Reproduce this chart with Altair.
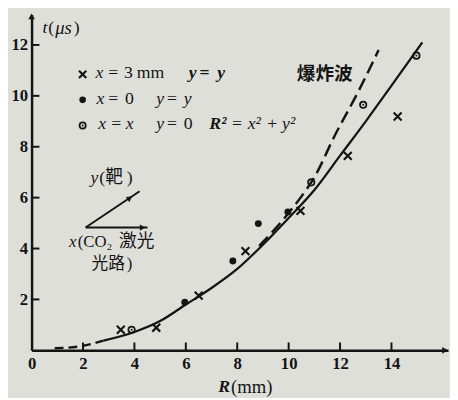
import altair as alt
import pandas as pd

# ---------------- data ----------------
cross_R = [3.47, 4.85, 6.5, 8.32, 10.46, 12.3, 14.24]
cross_t = [0.81, 0.89, 2.15, 3.9, 5.48, 7.64, 9.19]
dot_R = [5.96, 7.83, 8.82, 9.97]
dot_t = [1.89, 3.51, 4.98, 5.44]
ring_R = [3.89, 10.88, 12.9, 14.97]
ring_t = [0.81, 6.6, 9.65, 11.58]

fit_R = [2.8, 4, 5, 6, 7, 8, 9, 10, 11, 12, 13, 14, 15.2]
fit_t = [0.38, 0.72, 1.15, 1.8, 2.45, 3.2, 4.15, 5.2, 6.3, 7.65, 9.0, 10.4, 12.1]
low_R = [0.9, 1.9, 2.8]
low_t = [0.08, 0.16, 0.38]
blast_R = [8.85, 9.5, 10, 10.5, 11, 11.8, 12.7, 13.5]
blast_t = [4.1, 4.8, 5.4, 6.05, 6.8, 8.45, 10.15, 11.8]

x_ticks = [0, 2, 4, 6, 8, 10, 12, 14]
y_ticks = [2, 4, 6, 8, 10, 12]

# ---------------- style ----------------
INK = "#141414"
PAPER = "#dfdfda"
SERIF = "Liberation Serif"
CJK = "Noto Sans CJK SC"
W, H = 424, 342
OX, OY = 32, 11          # plot origin in page pixels
CROSS = "M-1,-1L1,1M-1,1L1,-1"

xs = alt.Scale(domain=[0, 16.2], nice=False, zero=False)
ys = alt.Scale(domain=[0, 13.2], nice=False, zero=False)
x_axis = alt.Axis(values=x_ticks, ticks=False, grid=False, title=None,
                  labelFont=SERIF, labelFontSize=17, labelFontWeight="bold",
                  labelColor=INK, domainColor=INK, domainWidth=2.5,
                  labelPadding=5, labelFlush=False)
y_axis = alt.Axis(values=y_ticks, ticks=False, grid=False, title=None,
                  labelFont=SERIF, labelFontSize=17, labelFontWeight="bold",
                  labelColor=INK, domainColor=INK, domainWidth=2.5,
                  labelPadding=4, labelFlush=False)


def X(field="R"):
    return alt.X(f"{field}:Q", scale=xs, axis=x_axis)


def Y(field="t"):
    return alt.Y(f"{field}:Q", scale=ys, axis=y_axis)


def df(R, t):
    return pd.DataFrame({"R": R, "t": t})


ONE = pd.DataFrame({"a": [1]})


def T(s, ix, iy, size=17, style="normal", weight="normal", font=SERIF):
    return alt.Chart(ONE).mark_text(
        text=s, align="left", baseline="middle", font=font, fontSize=size,
        fontStyle=style, fontWeight=weight, color=INK
    ).encode(x=alt.value(ix - OX), y=alt.value(iy - OY))


def sym(shape, ix, iy, size, filled, sw=2.0):
    return alt.Chart(ONE).mark_point(
        shape=shape, size=size, filled=filled, color=INK, strokeWidth=sw, opacity=1
    ).encode(x=alt.value(ix - OX), y=alt.value(iy - OY))


layers = []

# curves
layers.append(alt.Chart(df(fit_R, fit_t)).mark_line(
    color=INK, strokeWidth=2.3, interpolate="monotone").encode(x=X(), y=Y()))
layers.append(alt.Chart(df(low_R, low_t)).mark_line(
    color=INK, strokeWidth=2.4, strokeDash=[9, 5], interpolate="monotone").encode(x=X(), y=Y()))
layers.append(alt.Chart(df(blast_R, blast_t)).mark_line(
    color=INK, strokeWidth=2.5, strokeDash=[13, 6], interpolate="monotone").encode(x=X(), y=Y()))

# points
layers.append(alt.Chart(df(cross_R, cross_t)).mark_point(
    shape=CROSS, size=64, filled=False, color=INK, strokeWidth=2.2, opacity=1).encode(x=X(), y=Y()))
layers.append(alt.Chart(df(dot_R, dot_t)).mark_point(
    shape="circle", size=50, filled=True, color=INK, opacity=1).encode(x=X(), y=Y()))
layers.append(alt.Chart(df(ring_R, ring_t)).mark_point(
    shape="circle", size=42, filled=False, color=INK, strokeWidth=1.8, opacity=1).encode(x=X(), y=Y()))
layers.append(alt.Chart(df(ring_R, ring_t)).mark_point(
    shape="circle", size=4, filled=True, color=INK, opacity=1).encode(x=X(), y=Y()))

# inward ticks
layers.append(alt.Chart(pd.DataFrame({"R": x_ticks[1:]})).mark_rule(
    color=INK, strokeWidth=2).encode(x=X(), y=alt.value(H), y2=alt.value(H - 8)))
layers.append(alt.Chart(pd.DataFrame({"t": y_ticks})).mark_rule(
    color=INK, strokeWidth=2).encode(y=Y(), x=alt.value(0), x2=alt.value(8)))

# axis arrowheads
layers.append(alt.Chart(ONE).mark_point(shape="triangle-up", size=45, filled=True,
                                        color=INK, opacity=1).encode(x=alt.value(0), y=alt.value(2)))
layers.append(alt.Chart(ONE).mark_point(shape="triangle-right", size=45, filled=True,
                                        color=INK, opacity=1).encode(x=alt.value(W - 3), y=alt.value(H)))

# axis titles
layers += [
    T("t", 43, 25, 18, "italic"), T("(", 49, 25, 18), T("μs", 56, 25, 19, "italic"), T(")", 75, 25, 18),
    T("R", 222, 390, 18, "italic", "bold"), T("(mm)", 235, 390, 19),
]

# legend
layers += [
    sym(CROSS, 84, 72, 55, False, 2.2),
    T("x", 97, 71, 18, "italic"), T("=", 110, 71, 18), T("3", 126, 71, 18), T("mm", 139, 71, 18),
    T("y", 192, 71, 18, "italic", "bold"), T("=", 203, 71, 18, "normal", "bold"), T("y", 221, 71, 18, "italic", "bold"),
    sym("circle", 84, 98, 45, True),
    T("x", 98, 97, 18, "italic"), T("=", 110, 97, 18), T("0", 127, 97, 18),
    T("y", 159, 97, 18, "italic"), T("=", 170, 97, 18), T("y", 187, 97, 18, "italic"),
    sym("circle", 84, 124, 40, False, 1.8), sym("circle", 84, 124, 4, True),
    T("x", 100, 123, 18, "italic"), T("=", 113, 123, 18), T("x", 128, 123, 18, "italic"),
    T("y", 159, 123, 18, "italic"), T("=", 170, 123, 18), T("0", 187, 123, 18),
    T("R²", 213, 123, 18, "italic", "bold"), T("=", 236, 123, 18),
    T("x²", 252, 123, 18, "italic"), T("+", 272, 123, 18),
    T("y²", 287, 123, 18, "italic"),
]

# 爆炸波 label
layers.append(T("爆炸波", 302, 72, 19, "normal", "bold", CJK))

# coordinate sketch
ax0 = (87 - OX, 228 - OY)
layers.append(alt.Chart(ONE).mark_rule(color=INK, strokeWidth=2).encode(
    x=alt.value(ax0[0]), x2=alt.value(150 - OX), y=alt.value(ax0[1]), y2=alt.value(ax0[1])))
layers.append(alt.Chart(ONE).mark_rule(color=INK, strokeWidth=2).encode(
    x=alt.value(ax0[0]), x2=alt.value(142 - OX), y=alt.value(ax0[1]), y2=alt.value(191 - OY)))
layers.append(alt.Chart(ONE).mark_point(shape="triangle-right", size=40, filled=True, color=INK,
                                        opacity=1).encode(x=alt.value(145 - OX), y=alt.value(ax0[1])))
layers.append(alt.Chart(ONE).mark_point(shape="triangle-right", size=40, filled=True, color=INK,
                                        angle=326, opacity=1).encode(x=alt.value(132 - OX), y=alt.value(198 - OY)))
layers += [
    T("y", 92, 178, 18, "italic"), T("(", 101, 178, 18), T("靶", 107, 178, 18, "normal", "normal", CJK),
    T(")", 129, 178, 18),
    T("x", 70, 243, 17, "italic"), T("(CO₂", 79, 243, 17),
    T("激光", 121, 243, 18, "normal", "normal", CJK),
    T("光路", 93, 265, 17, "normal", "normal", CJK), T(")", 129, 265, 17),
]

chart = alt.layer(*layers).properties(
    width=W, height=H,
    autosize=alt.AutoSizeParams(type="none"),
    padding={"left": 24, "top": 3, "right": 2, "bottom": 45},
).configure(background=PAPER).configure_view(strokeWidth=0)

chart.save("out.html", embed_options={"renderer": "svg", "actions": False})
